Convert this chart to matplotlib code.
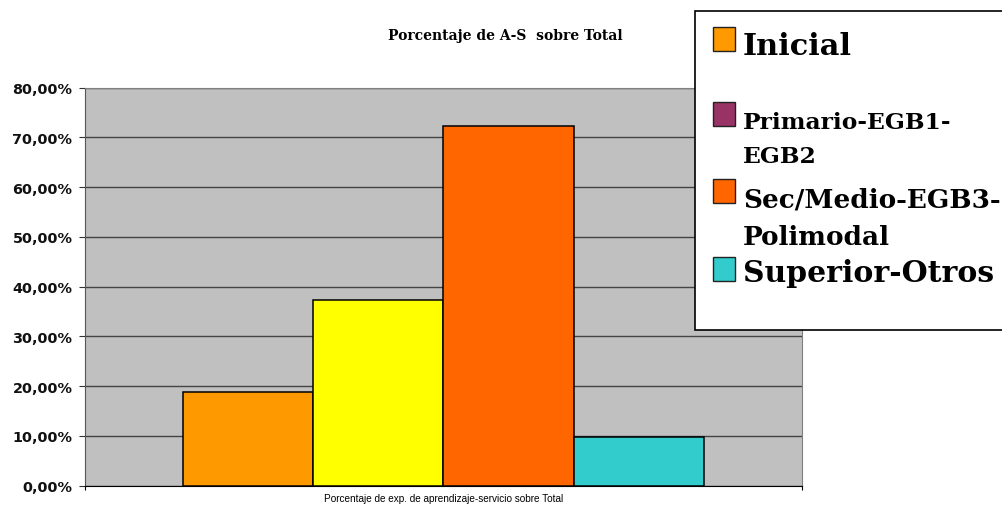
import matplotlib
matplotlib.use("Agg")
import matplotlib.pyplot as plt
from matplotlib.patches import Rectangle
from matplotlib.ticker import FuncFormatter

# porcentaje de experiencias de A-S por nivel
niveles = ["Inicial", "Primario-EGB1-\nEGB2", "Sec/Medio-EGB3-\nPolimodal", "Superior-Otros"]
porcentajes = [18.8, 37.3, 72.4, 9.8]
colores_barra = ["#FF9900", "#FFFF00", "#FF6600", "#33CCCC"]
colores_leyenda = ["#FF9900", "#993366", "#FF6600", "#33CCCC"]
tam_leyenda = [21.9, 16.8, 18.9, 21.5]
interlineado = [1.2, 1.73, 1.6, 1.2]

W, H = 1003, 506
fig = plt.figure(figsize=(W / 100, H / 100), dpi=100)
ax = fig.add_axes([85 / W, (H - 486.7) / H, 717 / W, 398 / H])
ax.set_facecolor("#C0C0C0")

# una sola categoria, cuatro series con espacio entre grupos del 150%
ancho = 1 / 5.5
for i, (v, c) in enumerate(zip(porcentajes, colores_barra)):
    ax.bar(0.5 + (i - 1.5) * ancho, v, width=ancho, color=c,
           edgecolor="black", linewidth=1.1, zorder=3)

ax.set_xlim(0, 1)
ax.set_ylim(0, 80)
ax.set_yticks(range(0, 81, 10))
ax.yaxis.set_major_formatter(FuncFormatter(lambda v, p: f"{v:.2f}%".replace(".", ",")))
ax.grid(axis="y", color="#444444", linewidth=1.0, zorder=1)
ax.set_axisbelow(True)
ax.set_xticks([0, 1])
ax.set_xticklabels(["", ""])
ax.tick_params(axis="x", length=3, color="black")
ax.tick_params(axis="y", length=4, color="#333333", pad=5)
for lbl in ax.get_yticklabels():
    lbl.set_fontfamily("DejaVu Sans")
    lbl.set_fontweight("bold")
    lbl.set_fontsize(10.4)
    lbl.set_color("#111111")
for s in ["top", "right"]:
    ax.spines[s].set_color("#808080")
ax.spines["left"].set_color("#555555")
ax.spines["bottom"].set_color("black")

fig.text(505 / W, 1 - 40 / H, "Porcentaje de A-S  sobre Total", ha="center",
         va="baseline", family="DejaVu Serif", weight="bold", fontsize=10.0)
fig.text(443.5 / W, 1 - 502.5 / H,
         "Porcentaje de exp. de aprendizaje-servicio sobre Total",
         ha="center", va="baseline", family="Liberation Sans", fontsize=7.2)

# leyenda (la linea base indicada es la de la ultima linea de cada texto)
fig.patches.append(Rectangle((695 / W, 1 - 331 / H), 320 / W, 319 / H,
                             transform=fig.transFigure, facecolor="white",
                             edgecolor="black", linewidth=1.2, zorder=5))
sw_top = [28, 103, 180, 258]
base = [55, 163, 245, 282]
for nom, c, t, b, fs, ls in zip(niveles, colores_leyenda, sw_top, base,
                                tam_leyenda, interlineado):
    fig.patches.append(Rectangle((713 / W, 1 - (t + 24) / H), 22 / W, 24 / H,
                                 transform=fig.transFigure, facecolor=c,
                                 edgecolor="#222222", linewidth=1.0, zorder=6))
    fig.text(743 / W, 1 - b / H, nom, ha="left", va="baseline",
             family="DejaVu Serif", weight="bold", fontsize=fs,
             linespacing=ls, zorder=7)

fig.savefig("out.png", dpi=100)
